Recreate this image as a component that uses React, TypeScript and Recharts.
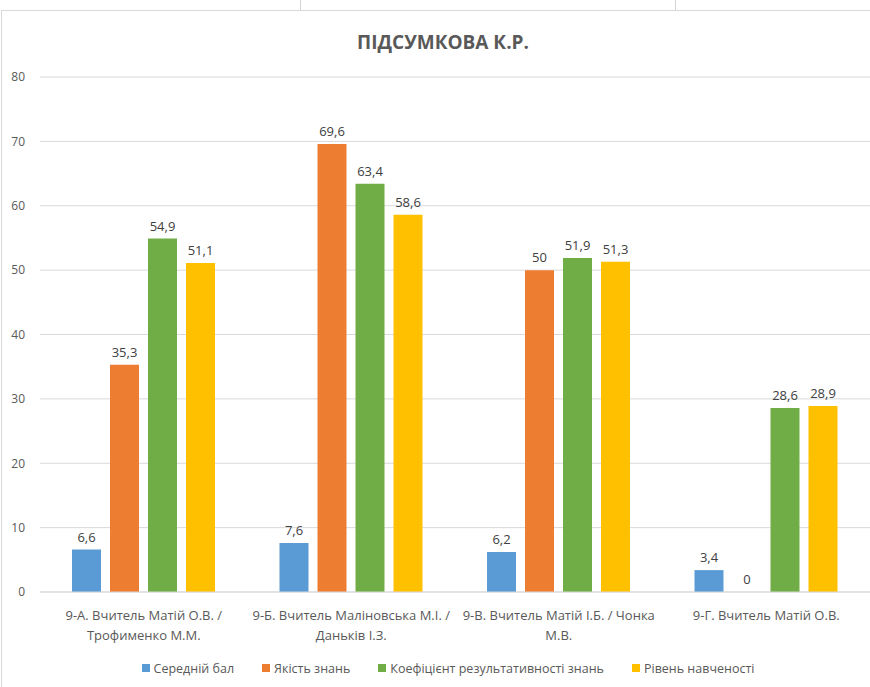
import { BarChart, Bar, XAxis, YAxis, CartesianGrid, Legend, LabelList } from 'recharts'

const categoryLines = [
  ['9-А. Вчитель Матій О.В. /', 'Трофименко М.М.'],
  ['9-Б. Вчитель Маліновська М.І. /', 'Даньків І.З.'],
  ['9-В. Вчитель Матій І.Б. / Чонка', 'М.В.'],
  ['9-Г. Вчитель Матій О.В.'],
]
const averageScore = [6.6, 7.6, 6.2, 3.4]
const knowledgeQuality = [35.3, 69.6, 50, 0]
const performanceRatio = [54.9, 63.4, 51.9, 28.6]
const learningLevel = [51.1, 58.6, 51.3, 28.9]
const yTicks = [0, 10, 20, 30, 40, 50, 60, 70, 80]

const series = [
  { key: 'avg', name: 'Середній бал', color: '#5B9BD5', values: averageScore },
  { key: 'quality', name: 'Якість знань', color: '#ED7D31', values: knowledgeQuality },
  { key: 'ratio', name: 'Коефіцієнт результативності знань', color: '#70AD47', values: performanceRatio },
  { key: 'level', name: 'Рівень навченості', color: '#FFC000', values: learningLevel },
]

const data = categoryLines.map((lines, i) => {
  const row: any = { name: lines.join(' ') }
  series.forEach((s) => { row[s.key] = s.values[i] })
  return row
})

const FONT = '"Open Sans", "Liberation Sans", sans-serif'

// wrapped category label, one tspan per line
const CategoryTick = (props: any) => {
  const { x, y, index } = props
  const lines = categoryLines[index] || []
  return (
    <text x={x} y={y} textAnchor="middle" fill="#595959" fontSize={13} fontFamily={FONT}>
      {lines.map((l, i) => (
        <tspan key={i} x={x} y={y + 26 + i * 20}>{l}</tspan>
      ))}
    </text>
  )
}

const LegendContent = () => (
  <div style={{ display: 'flex', justifyContent: 'center', alignItems: 'center', height: 20, paddingLeft: 26, fontFamily: FONT, fontSize: 12.5, color: '#595959' }}>
    {series.map((s) => (
      <div key={s.key} style={{ display: 'flex', alignItems: 'center', margin: '0 14px' }}>
        <span style={{ width: 8, height: 8, background: s.color, marginRight: 4, display: 'inline-block' }} />
        <span>{s.name}</span>
      </div>
    ))}
  </div>
)

const fmt = (v: any) => String(v).replace('.', ',')

export default function App() {
  return (
    <div style={{ position: 'absolute', left: 0, top: 0, width: 870, height: 687, background: '#fff', overflow: 'hidden' }}>
      {/* spreadsheet cells above the chart */}
      <div style={{ position: 'absolute', left: 300, top: 0, width: 1, height: 10, background: '#d4d4d4' }} />
      <div style={{ position: 'absolute', left: 675, top: 0, width: 1, height: 10, background: '#d4d4d4' }} />
      <div style={{ position: 'absolute', left: 1, top: 10, width: 869, height: 677, borderTop: '1px solid #d9d9d9', borderLeft: '1px solid #d9d9d9' }} />

      <div style={{ position: 'absolute', top: 29, left: 0, width: 886, textAlign: 'center', fontFamily: FONT, fontSize: 19, fontWeight: 700, color: '#595959' }}>
        ПІДСУМКОВА К.Р.
      </div>

      <div style={{ position: 'absolute', left: 0, top: 0 }}>
        <BarChart width={870} height={687} data={data} margin={{ top: 77, right: 0, left: 0, bottom: 9 }} barSize={29} barGap={9}>
          <CartesianGrid vertical={false} stroke="#d9d9d9" />
          <XAxis dataKey="name" height={66} axisLine={{ stroke: '#d9d9d9' }} tickLine={false} tickSize={0} tick={<CategoryTick />} interval={0} />
          <YAxis width={40} domain={[0, 80]} ticks={yTicks} axisLine={false} tickLine={false} tickSize={0} tickMargin={15}
            tick={{ fill: '#595959', fontSize: 12, fontFamily: FONT }} />
          <Legend verticalAlign="bottom" height={20} content={<LegendContent />} />
          {series.map((s) => (
            <Bar key={s.key} dataKey={s.key} name={s.name} fill={s.color} minPointSize={0.01} isAnimationActive={false}>
              <LabelList dataKey={s.key} position="top" offset={8} formatter={fmt} fill="#404040" fontSize={13} fontFamily={FONT} />
            </Bar>
          ))}
        </BarChart>
      </div>
    </div>
  )
}
